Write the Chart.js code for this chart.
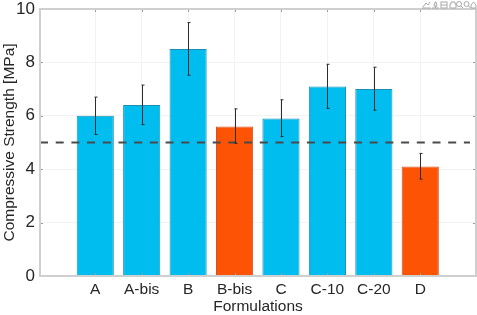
<!DOCTYPE html>
<html>
<head>
<meta charset="utf-8">
<style>
  html, body { margin: 0; padding: 0; background: #fff; }
  #wrap { position: relative; width: 477px; height: 315px; }
  #wrap canvas { display: block; }
  #icons { position: absolute; left: 421px; top: 0; }
</style>
<script src="https://cdn.jsdelivr.net/npm/chart.js@4"></script>
</head>
<body>
<div id="wrap">
  <canvas id="strengthChart" width="477" height="315"></canvas>
  <svg id="icons" width="56" height="9" fill="none" stroke="#a8a8a8" stroke-width="1">
    <path d="M2 7l3-4 2 2 2-3M1 8h9"/>
    <path d="M11 8h7M14.5 8V6M13 6h3l-1-4h-1z"/>
    <rect x="20" y="2" width="6" height="6"/><path d="M20 5h6"/>
    <path d="M29 8V4h1V2h4v2h1v4z"/>
    <circle cx="38" cy="4" r="2.5"/><path d="M40 6l2 2"/>
    <circle cx="45.5" cy="4" r="2.5"/><path d="M47.5 6l2 2"/>
    <path d="M50 5l2.5-3 2.5 3v3h-5z"/>
  </svg>
</div>
<script>
const categories = ['A', 'A-bis', 'B', 'B-bis', 'C', 'C-10', 'C-20', 'D'];
const strength = [6.0, 6.4, 8.5, 5.6, 5.9, 7.1, 7.0, 4.1];
const errLow = [5.3, 5.67, 7.52, 4.97, 5.22, 6.28, 6.21, 3.63];
const errHigh = [6.7, 7.15, 9.49, 6.26, 6.6, 7.93, 7.82, 4.59];
const belowGroup = ['B-bis', 'D'];
const threshold = 5;
const thresholdX = [-0.19, 9.07];

const BLUE = '#00bdf0';
const RED = '#fd5304';
const AXIS = '#cfcfcf';

const positions = categories.map((c, i) => i + 1);
const isOrange = categories.map(c => belowGroup.includes(c));

// whisker lines plus the tick marks the axes draw inward
const extras = {
  id: 'extras',
  afterDatasetsDraw(chart) {
    const { ctx, scales: { x, y }, chartArea: a } = chart;
    ctx.save();
    ctx.strokeStyle = '#2c2c2c';
    ctx.lineWidth = 1;
    positions.forEach((p, i) => {
      const px = Math.round(x.getPixelForValue(p)) + 0.5;
      const top = y.getPixelForValue(errHigh[i]);
      const bot = y.getPixelForValue(errLow[i]);
      ctx.beginPath();
      ctx.moveTo(px, top); ctx.lineTo(px, bot);
      ctx.moveTo(px - 1, top); ctx.lineTo(px + 2, top);
      ctx.moveTo(px - 1, bot); ctx.lineTo(px + 2, bot);
      ctx.stroke();
    });
    ctx.strokeStyle = '#9c9c9c';
    positions.forEach(p => {
      const px = Math.round(x.getPixelForValue(p)) + 0.5;
      ctx.beginPath();
      ctx.moveTo(px, a.top); ctx.lineTo(px, a.top + 3);
      ctx.moveTo(px, a.bottom); ctx.lineTo(px, a.bottom - 3);
      ctx.stroke();
    });
    [2, 4, 6, 8].forEach(v => {
      const py = Math.round(y.getPixelForValue(v)) + 0.5;
      ctx.beginPath();
      ctx.moveTo(a.left, py); ctx.lineTo(a.left + 3, py);
      ctx.moveTo(a.right, py); ctx.lineTo(a.right - 3, py);
      ctx.stroke();
    });
    ctx.strokeStyle = AXIS;
    ctx.lineWidth = 2;
    ctx.strokeRect(a.left, a.top, a.right - a.left, a.bottom - a.top);
    ctx.restore();
  }
};

const ctx = document.getElementById('strengthChart').getContext('2d');
new Chart(ctx, {
  type: 'bar',
  data: {
    datasets: [
      {
        type: 'line',
        data: thresholdX.map(v => ({ x: v, y: threshold })),
        borderColor: '#4a4a4a',
        borderWidth: 2,
        borderDash: [8, 7.7],
        pointRadius: 0,
        order: 0
      },
      {
        data: positions.map((p, i) => ({ x: p, y: strength[i] })),
        backgroundColor: isOrange.map(o => o ? RED : BLUE),
        borderColor: isOrange.map(o => o ? '#d4522a' : '#1a8fb0'),
        borderWidth: 1,
        barPercentage: 0.8,
        categoryPercentage: 1,
        order: 1
      }
    ]
  },
  options: {
    responsive: false,
    animation: false,
    layout: { padding: 0 },
    plugins: { legend: { display: false }, tooltip: { enabled: false } },
    scales: {
      x: {
        type: 'linear',
        offset: false,
        min: -0.19,
        max: 9.2,
        afterBuildTicks: axis => { axis.ticks = positions.map(p => ({ value: p })); },
        afterFit: axis => { axis.height = 39; axis.paddingRight = 1; axis.paddingLeft = 0; },
        grid: { color: '#f2f2f2', drawTicks: false, offset: false },
        border: { display: false },
        ticks: {
          autoSkip: false,
          maxRotation: 0,
          padding: 4,
          color: '#262626',
          font: { family: 'Liberation Sans', size: 15.5 },
          callback: v => categories[v - 1]
        },
        title: {
          display: true,
          text: 'Formulations',
          color: '#262626',
          font: { family: 'Liberation Sans', size: 15.5 },
          padding: { top: 1, bottom: -1.5 }
        }
      },
      y: {
        min: 0,
        max: 10,
        afterFit: axis => { axis.width = 40; axis.paddingTop = 9; axis.paddingBottom = 0; },
        grid: { color: '#f2f2f2', drawTicks: false },
        border: { display: false },
        ticks: {
          stepSize: 2,
          padding: 5,
          color: '#262626',
          font: { family: 'Liberation Sans', size: 17 }
        },
        title: {
          display: true,
          text: 'Compressive Strength [MPa]',
          color: '#262626',
          font: { family: 'Liberation Sans', size: 15.5 },
          padding: { top: 0, bottom: 0 }
        }
      }
    }
  },
  plugins: [extras]
});
</script>
</body>
</html>
